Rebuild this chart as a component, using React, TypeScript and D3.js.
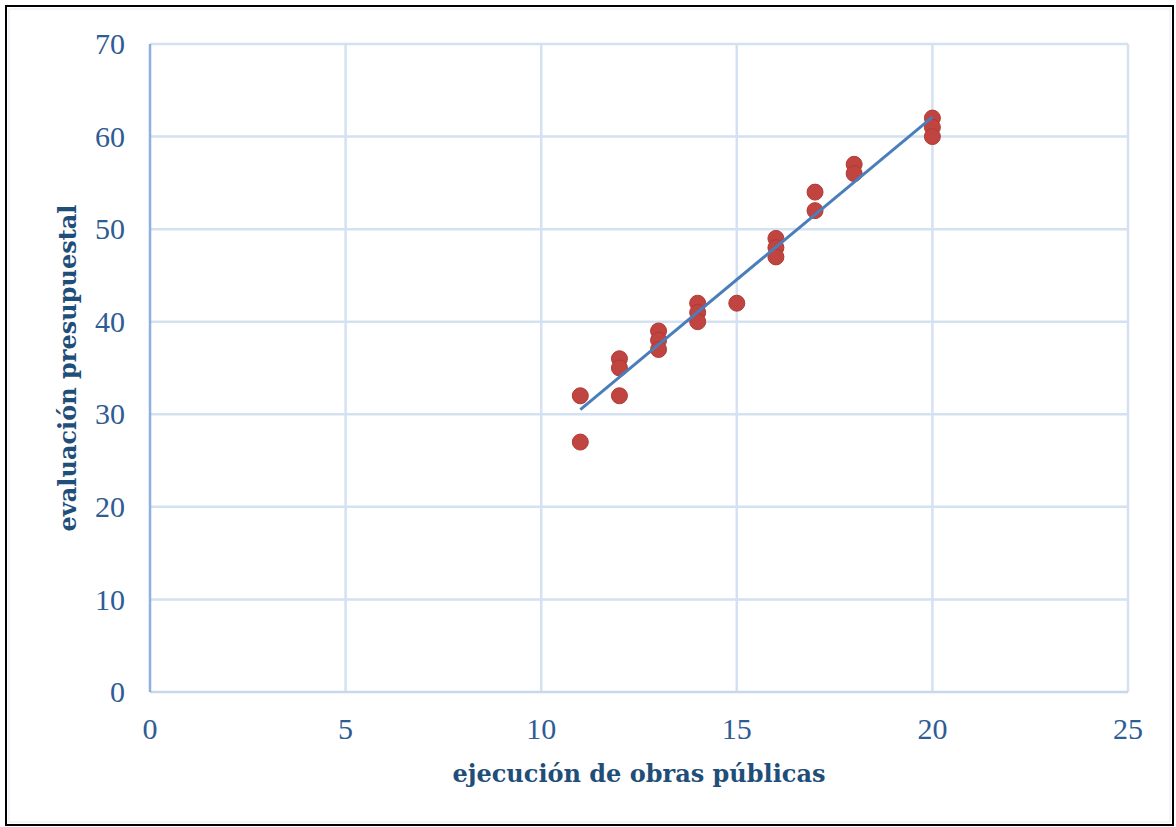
import React from 'react';
import * as d3 from 'd3';

// ejecución de obras públicas (x) vs evaluación presupuestal (y)
const obras = [11, 11, 12, 12, 12, 13, 13, 13, 14, 14, 14, 15, 16, 16, 16, 17, 17, 18, 18, 20, 20, 20];
const evaluacion = [32, 27, 36, 35, 32, 39, 38, 37, 42, 41, 40, 42, 49, 48, 47, 54, 52, 57, 56, 62, 61, 60];
const xTicks = [0, 5, 10, 15, 20, 25];
const yTicks = [0, 10, 20, 30, 40, 50, 60, 70];

const W = 1176;
const H = 827;
const margin = { top: 44, right: 48, bottom: 135, left: 150 };

export default function App() {
  const x = d3.scaleLinear().domain([0, 25]).range([margin.left, W - margin.right]);
  const y = d3.scaleLinear().domain([0, 70]).range([H - margin.bottom, margin.top]);

  const points = obras.map((v, i) => ({ x: v, y: evaluacion[i] }));

  // linear trendline (least squares)
  const mx = d3.mean(obras) as number;
  const my = d3.mean(evaluacion) as number;
  const sxy = d3.sum(points, d => (d.x - mx) * (d.y - my));
  const sxx = d3.sum(points, d => (d.x - mx) ** 2);
  const slope = sxy / sxx;
  const intercept = my - slope * mx;
  const [xmin, xmax] = d3.extent(obras) as [number, number];
  const trend = d3.line<number>().x(d => x(d)).y(d => y(slope * d + intercept))([xmin, xmax]) as string;

  const tickColor = '#2E5C93';
  const titleColor = '#1F4E79';
  const gridColor = '#D3E1F1';
  const tickFont = "'Liberation Serif', 'DejaVu Serif', serif";

  return (
    <svg width={W} height={H} style={{ position: 'absolute', left: 0, top: 0, background: '#fff' }}>
      <rect x={6} y={6} width={W - 9} height={H - 8} fill="#fff" stroke="#000" strokeWidth={2} />
      <rect x={9} y={9} width={W - 15} height={H - 14} fill="none" stroke="#E4ECF6" strokeWidth={1} />

      {/* grid */}
      {yTicks.filter(t => t > 0).map(t => (
        <line key={'gy' + t} x1={x(0)} x2={x(25)} y1={y(t)} y2={y(t)} stroke={gridColor} strokeWidth={2.5} />
      ))}
      {xTicks.filter(t => t > 0).map(t => (
        <line key={'gx' + t} x1={x(t)} x2={x(t)} y1={y(0)} y2={y(70)} stroke={gridColor} strokeWidth={2.5} />
      ))}
      {/* axes */}
      <line x1={x(0)} x2={x(25)} y1={y(0)} y2={y(0)} stroke="#C6D7EE" strokeWidth={2.5} />
      <line x1={x(0)} x2={x(0)} y1={y(0)} y2={y(70)} stroke="#8EB0DE" strokeWidth={2.5} />

      {/* tick labels */}
      {yTicks.map(t => (
        <text key={'ty' + t} x={125} y={y(t)} dy="0.34em" textAnchor="end"
          fontFamily={tickFont} fontSize={30} fill={tickColor}>{t}</text>
      ))}
      {xTicks.map(t => (
        <text key={'tx' + t} x={x(t)} y={729} dy="0.34em" textAnchor="middle"
          fontFamily={tickFont} fontSize={30} fill={tickColor}>{t}</text>
      ))}

      {/* points */}
      {points.map((d, i) => (
        <circle key={i} cx={x(d.x)} cy={y(d.y)} r={8} fill="#C0443F" stroke="#B03A36" strokeWidth={1} />
      ))}

      {/* trendline */}
      <path d={trend} fill="none" stroke="#4A7EBB" strokeWidth={3} />

      {/* axis titles */}
      <text x={639} y={782} textAnchor="middle" fontFamily="'DejaVu Serif', 'Liberation Serif', serif"
        fontWeight="bold" fontSize={24} fill={titleColor}>ejecución de obras públicas</text>
      <text transform={`translate(76, ${368}) rotate(-90)`} textAnchor="middle"
        fontFamily="'DejaVu Serif', 'Liberation Serif', serif" fontWeight="bold" fontSize={24}
        fill={titleColor}>evaluación presupuestal</text>
    </svg>
  );
}
